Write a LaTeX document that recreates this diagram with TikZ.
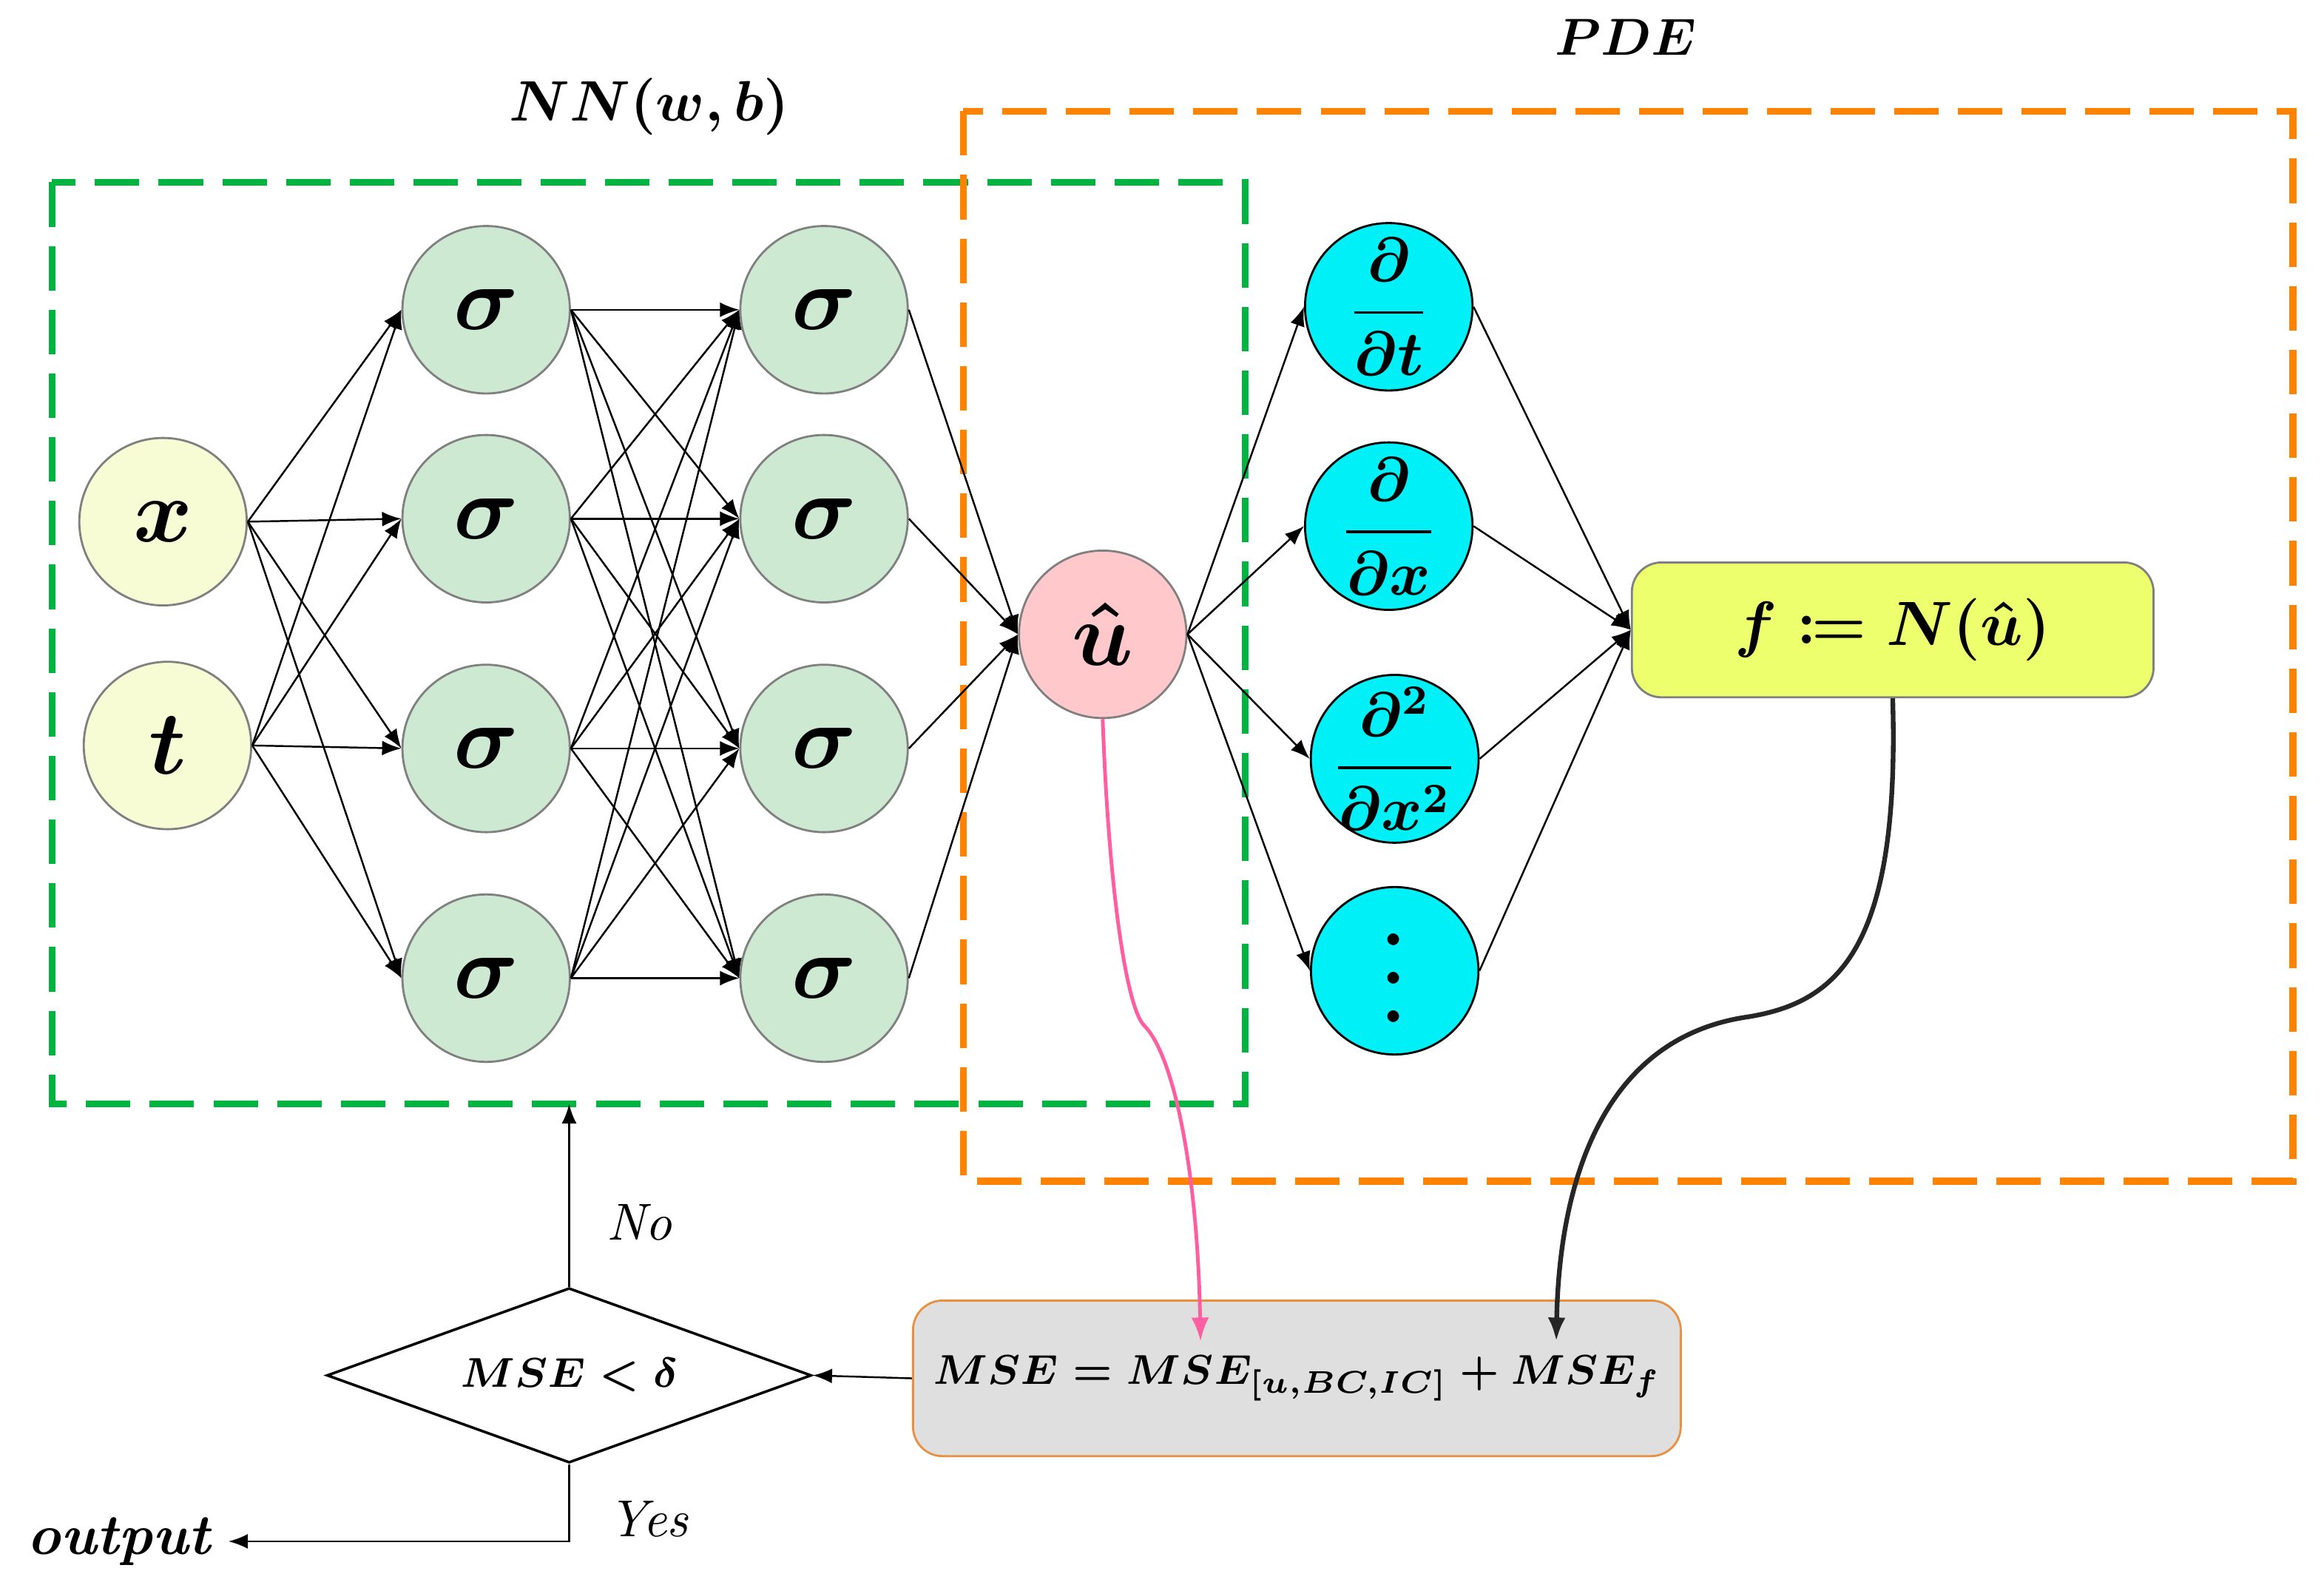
\documentclass[tikz,border=0pt]{standalone}
\usepackage{amsmath, amssymb, mathtools}
\usepackage{xcolor, graphicx}
\usetikzlibrary{arrows.meta, shapes.geometric}

\definecolor{inputfill}{HTML}{F7FCD4}
\definecolor{hiddenfill}{HTML}{CDE9D1}
\definecolor{outfill}{HTML}{FFC9CB}
\definecolor{dercyan}{HTML}{00F0F8}
\definecolor{nngreen}{HTML}{00B53F}
\definecolor{pdeorange}{HTML}{FF8200}
\definecolor{ffill}{HTML}{EEFF6E}
\definecolor{msefill}{HTML}{DFDFDF}
\definecolor{mseborder}{HTML}{E89040}
\definecolor{lossPink}{HTML}{FF5FA0}

\tikzset{
	neuron/.style = {circle, draw=gray, line width=0.4pt, minimum size=11.3mm, inner sep=0pt,
		font=\fontsize{17}{20}\selectfont\boldmath},
	inode/.style = {neuron, fill=inputfill},
	hnode/.style = {neuron, fill=hiddenfill},
	unode/.style = {neuron, fill=outfill},
	dnode/.style = {neuron, draw=black, fill=dercyan, inner sep=-1.5pt, font=\fontsize{12}{14}\selectfont\boldmath},
	conn/.style = {-{Latex[length=1.3mm, width=1mm]}, line width=0.35pt},
	frame/.style = {line width=1.3pt, dash pattern=on 3mm off 1.3mm},
}

\begin{document}
\begin{tikzpicture}[x=0.1mm, y=-0.1mm]
			\useasboundingbox (0,0) rectangle (1568,1071);

			% dashed frames
			\draw[frame, nngreen] (35,123) rectangle (840,745);
			\draw[frame, pdeorange] (650,75) rectangle (1547,797);
			\coordinate (nnbot) at (384,745);

			\node[font=\fontsize{11}{13}\selectfont\boldmath] (nnlbl) at (438,72) {$NN(w,b)$};
			\node[font=\fontsize{10}{12}\selectfont\boldmath] (pdelbl) at (1097,25) {$PDE$};

			% network
			\node[inode] (in1) at (110,352) {$x$};
			\node[inode] (in2) at (113,503) {$t$};

			\foreach \i/\y in {1/209, 2/350, 3/505, 4/660}
			{
				\node[hnode] (a\i) at (328,\y) {$\sigma$};
				\node[hnode] (b\i) at (556,\y) {$\sigma$};
			}

			\node[unode] (u) at (744,428) {$\hat{u}$};

			\node[dnode] (d1) at (937,207) {$\dfrac{\partial}{\partial t}$};
			\node[dnode] (d2) at (937,355) {$\dfrac{\partial}{\partial x}$};
			\node[dnode] (d3) at (941,512) {$\dfrac{\partial^2}{\partial x^2}$};
			\node[dnode, font=\fontsize{14.5}{17}\selectfont\boldmath] (d4) at (941,655) {\rotatebox{90}{$\cdots$}};

			\node[draw=gray, fill=ffill, rounded corners=2mm, minimum width=35.2mm, minimum height=9.1mm,
				font=\fontsize{11.5}{14}\selectfont\boldmath] (f) at (1277,425) {$f \coloneqq N(\hat{u})$};

			\foreach \s in {in1, in2}
			{
				\foreach \i in {1,...,4}
				{
					\draw[conn] (\s.east) -- (a\i.west);
				}
			}
			\foreach \i in {1,...,4}
			{
				\foreach \j in {1,...,4}
				{
					\draw[conn] (a\i.east) -- (b\j.west);
				}
				\draw[conn] (b\i.east) -- (u.west);
				\draw[conn] (u.east) -- (d\i.west);
				\draw[conn] (d\i.east) -- (f.west);
			}

			% loss and decision
			\node[draw=mseborder, fill=msefill, rounded corners=2mm, minimum width=51.8mm, minimum height=10.5mm,
				font=\fontsize{8}{10}\selectfont\boldmath] (mse) at (875,930) {$MSE = MSE_{[u,BC,IC]} + MSE_f$};
			\node[diamond, draw, line width=0.5pt, aspect=2.77, inner sep=0pt, minimum width=32.7mm, minimum height=11.8mm,
				font=\fontsize{7.8}{10}\selectfont\boldmath] (dec) at (384,928) {$MSE < \delta$};

			\coordinate (pinkend) at (810,905);
			\coordinate (blackend) at (1050,905);
			\draw[-{Latex[length=1.6mm, width=1.2mm]}, lossPink, line width=0.7pt] (u.south)
				.. controls (748,600) and (760,680) .. (772,692)
				.. controls (792,712) and (808,790) .. (pinkend);
			\draw[-{Latex[length=1.6mm, width=1.2mm]}, black!85, line width=0.9pt] (f.south)
				.. controls (1282,640) and (1240,676) .. (1180,686)
				.. controls (1080,700) and (1052,800) .. (blackend);

			\draw[conn] (mse.west) -- (dec.east);
			\draw[conn] (dec.north) -- (nnbot);
			\node[anchor=west, font=\fontsize{10}{12}\selectfont\itshape] (nolbl) at (397,825) {No};

			\node[font=\fontsize{11}{13}\selectfont\bfseries\itshape] (out) at (80,1040) {output};
			\draw[conn] (dec.south) |- (out.east);
			\node[anchor=west, font=\fontsize{10}{12}\selectfont\itshape] (yeslbl) at (398,1025) {Yes};
		\end{tikzpicture}
\end{document}
